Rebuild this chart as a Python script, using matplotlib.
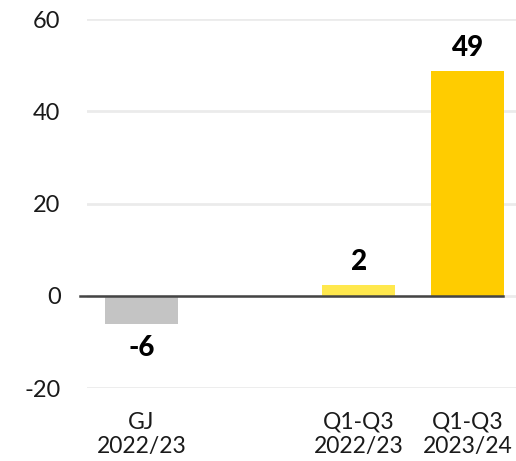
import matplotlib.pyplot as plt

categories = ["GJ\n2022/23", "", "Q1-Q3\n2022/23", "Q1-Q3\n2023/24"]
values = [-6.2, None, 2.4, 48.7]
labels = ["-6", "", "2", "49"]
colors = ["#c4c4c4", "none", "#ffe84d", "#ffcc00"]
yticks = [-20, 0, 20, 40, 60]

plt.rcParams['font.family'] = ['Lato', 'DejaVu Sans']

fig = plt.figure(figsize=(5.16, 4.61), dpi=100)
ax = fig.add_axes([87 / 516, 1 - 388 / 461, 1 - 87 / 516, (388 - 19) / 461])

xs = list(range(len(categories)))
for x, v, c, lab in zip(xs, values, colors, labels):
    if v is None:
        continue
    ax.bar(x, v, width=0.67, color=c, zorder=2)
    if v >= 0:
        ax.annotate(lab, (x, v), xytext=(0, 7), textcoords="offset points",
                    ha="center", va="bottom", fontsize=20, fontweight="black")
    else:
        ax.annotate(lab, (x, v), xytext=(0, -8), textcoords="offset points",
                    ha="center", va="top", fontsize=20, fontweight="black")

ax.set_xlim(-0.5, 3.445)
ax.set_ylim(-20, 60)
ax.set_yticks(yticks)
ax.set_yticklabels([str(t) for t in yticks])
ax.set_xticks(xs)
ax.set_xticklabels(categories, linespacing=1.2)

ax.grid(axis="y", color="#ebebeb", linewidth=2, zorder=0)
ax.axhline(0, xmin=-0.016, xmax=0.97, color="#444444", linewidth=1.8, zorder=3, clip_on=False)

for s in ax.spines.values():
    s.set_visible(False)
ax.tick_params(axis="y", length=0, pad=19, labelsize=17, labelcolor="#1a1a1a")
ax.tick_params(axis="x", length=0, pad=17, labelsize=16.5, labelcolor="#1a1a1a")

fig.savefig("out.png", dpi=100)
